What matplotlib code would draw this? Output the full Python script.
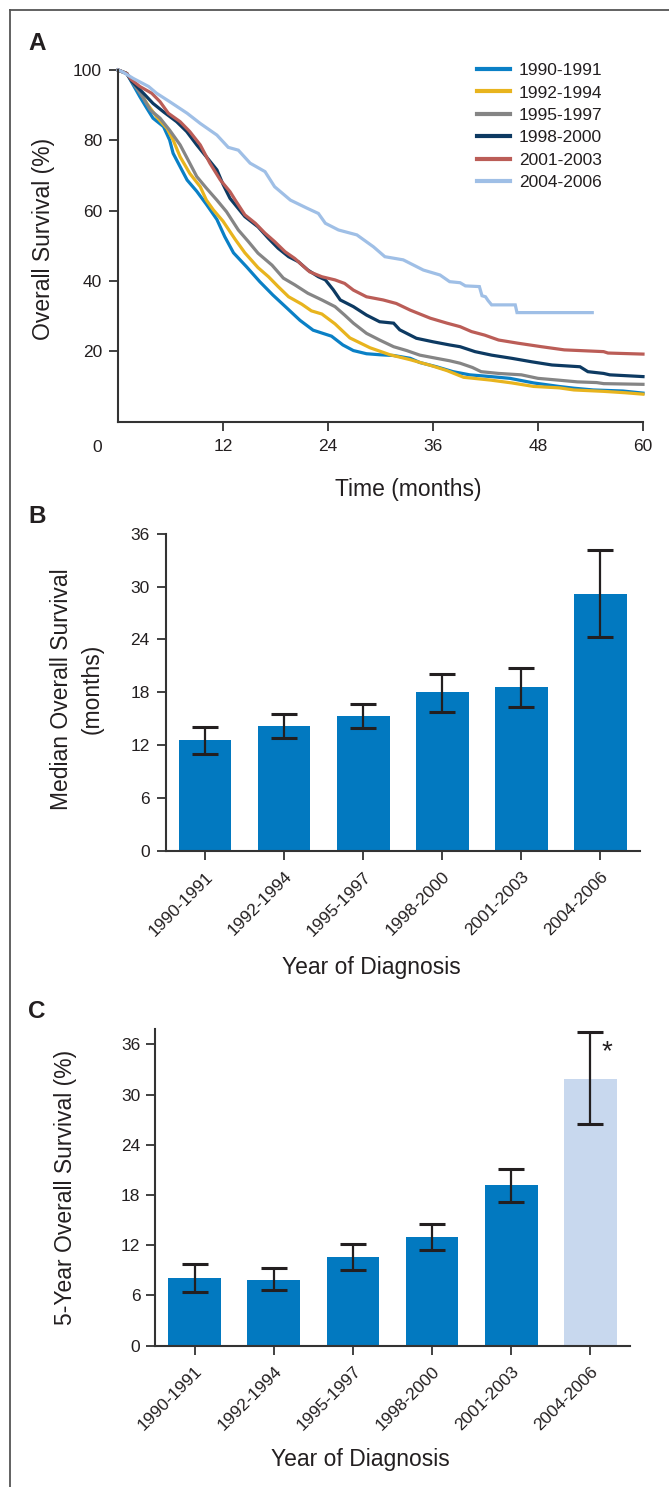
import matplotlib
matplotlib.use('Agg')
import matplotlib.pyplot as plt
from matplotlib.lines import Line2D
import numpy as np

plt.rcParams['font.family'] = ['Liberation Sans', 'DejaVu Sans']

# ---------------- data ----------------
groups = ['1990-1991', '1992-1994', '1995-1997', '1998-2000', '2001-2003', '2004-2006']
curve_colors = ['#0a80c6', '#e8b41e', '#858585', '#0d3a62', '#bb5d57', '#9fbfe6']

t_9091 = [0, 1.0, 2.5, 3.3, 4.0, 5.2, 5.9, 6.3, 7.1, 7.9, 9.0, 10.1, 11.3, 12.2, 13.2, 14.7, 16.2, 17.7,
          19.3, 20.8, 22.3, 24.4, 25.7, 26.9, 28.4, 30.0, 31.5, 33.4, 34.5, 36.4, 38.3, 40.2, 42.6, 44.8,
          47.5, 50.4, 52.1, 54.3, 57.7, 60]
s_9091 = [100, 99, 92.4, 89.1, 86.3, 83.9, 80.1, 76.3, 72.5, 68.7, 65.5, 61.8, 57.5, 52.6, 48.0, 44.0, 39.8,
          36.0, 32.3, 28.8, 26.0, 24.3, 21.8, 20.2, 19.3, 19.0, 18.8, 18.0, 16.8, 15.6, 14.2, 13.3, 12.8,
          12.3, 11.0, 10.0, 9.5, 9.0, 8.7, 8.1]

t_9294 = [0, 1.0, 2.5, 3.3, 4.4, 5.6, 6.3, 7.1, 8.2, 9.4, 10.1, 10.9, 12.0, 13.4, 14.5, 16.0, 17.2, 18.3,
          19.5, 21.0, 22.1, 23.3, 24.8, 26.5, 28.8, 31.1, 33.4, 35.7, 37.6, 39.5, 42.6, 45.0, 47.5, 50.4,
          52.1, 55.5, 58.0, 60]
s_9294 = [100, 99, 93.8, 90.5, 86.7, 83.4, 80.1, 75.3, 70.6, 66.8, 63.0, 60.2, 57.0, 51.8, 48.0, 43.8, 41.2,
          38.4, 35.5, 33.4, 31.5, 30.6, 27.8, 23.8, 21.0, 19.0, 17.6, 16.0, 14.5, 12.6, 11.8, 11.0, 10.0,
          9.6, 9.0, 8.6, 8.2, 7.8]

t_9597 = [0, 1.0, 1.75, 2.9, 3.7, 4.8, 5.9, 7.1, 8.2, 9.0, 10.1, 11.3, 12.4, 13.75, 14.9, 16.0, 17.6, 18.9,
          20.2, 21.7, 23.3, 24.8, 25.9, 26.9, 28.4, 29.9, 31.5, 33.0, 34.5, 36.4, 37.9, 39.1, 40.5, 41.5,
          43.5, 46.1, 48.0, 50.3, 52.5, 54.7, 55.5, 60]
s_9597 = [100, 99, 96.2, 92.0, 88.6, 86.3, 82.9, 78.7, 73.5, 69.7, 66.4, 63.0, 59.7, 54.5, 51.2, 47.9, 44.5,
          40.8, 38.9, 36.5, 34.6, 32.7, 30.3, 28.0, 25.1, 23.2, 21.3, 20.2, 18.9, 18.0, 17.3, 16.6, 15.4,
          14.2, 13.7, 13.3, 12.3, 11.8, 11.3, 11.1, 10.8, 10.6]

t_9800 = [0, 1.0, 1.6, 2.9, 4.0, 5.2, 6.7, 7.85, 9.0, 10.1, 11.3, 12.0, 12.8, 14.5, 16.0, 17.2, 18.3, 19.5,
          20.6, 21.7, 22.9, 23.7, 24.6, 25.4, 26.9, 28.4, 29.9, 31.5, 32.2, 34.1, 36.0, 37.9, 39.1, 40.8,
          42.7, 45.0, 47.3, 49.6, 52.8, 53.7, 55.5, 56.2, 58.5, 60]
s_9800 = [100, 99, 96.7, 93.4, 90.5, 88.1, 85.3, 82.5, 78.7, 75.3, 71.6, 67.5, 63.5, 58.3, 55.4, 52.1, 49.3,
          46.9, 45.5, 43.1, 41.2, 40.3, 37.5, 34.6, 32.7, 30.3, 28.4, 28.0, 26.1, 23.7, 22.7, 21.8, 21.3,
          19.9, 18.9, 18.0, 17.0, 16.1, 15.6, 14.2, 13.7, 13.3, 13.0, 12.8]

t_0103 = [0, 1.0, 1.56, 2.5, 3.85, 4.8, 5.75, 7.1, 8.2, 9.4, 10.5, 11.7, 12.8, 13.4, 14.5, 15.7, 16.8, 17.9,
          19.1, 20.2, 21.9, 23.3, 24.8, 25.9, 26.9, 28.4, 30.3, 31.8, 33.4, 35.7, 37.6, 39.1, 40.4, 41.9,
          43.5, 45.7, 48.4, 51.0, 55.5, 56.0, 60]
s_0103 = [100, 99, 97.2, 95.3, 93.4, 91.0, 87.7, 85.3, 82.5, 78.7, 73.5, 68.7, 65.4, 63.0, 58.8, 56.4, 53.6,
          51.2, 48.3, 46.4, 42.6, 41.2, 40.3, 39.3, 37.4, 35.5, 34.6, 33.6, 31.7, 29.4, 28.0, 27.0, 25.6,
          24.6, 23.2, 22.3, 21.3, 20.4, 19.9, 19.5, 19.2]

t_0406 = [0, 0.5, 1.75, 3.5, 4.4, 5.9, 7.9, 9.4, 11.3, 12.6, 13.75, 15.1, 16.8, 17.9, 19.7, 21.6, 22.9, 23.7,
          25.2, 27.3, 29.2, 30.5, 32.6, 34.9, 36.8, 37.9, 39.1, 39.7, 41.3, 41.6, 42.0, 42.3, 42.7, 45.4,
          45.6, 54.2]
s_0406 = [100, 99.5, 97.6, 95.3, 93.4, 91.0, 87.7, 84.8, 81.5, 78.0, 77.2, 73.5, 71.1, 66.8, 63.0, 60.7,
          59.2, 56.4, 54.5, 53.1, 49.7, 46.9, 46.0, 43.1, 41.7, 39.8, 39.5, 38.6, 38.4, 35.8, 35.5, 34.4,
          33.2, 33.2, 31.0, 31.0]

curve_t = [t_9091, t_9294, t_9597, t_9800, t_0103, t_0406]
curve_s = [s_9091, s_9294, s_9597, s_9800, s_0103, s_0406]

median_os = [12.6, 14.2, 15.3, 18.0, 18.6, 29.2]
median_lo = [11.0, 12.8, 14.0, 15.8, 16.3, 24.3]
median_hi = [14.1, 15.6, 16.7, 20.1, 20.8, 34.1]

five_yr = [8.1, 7.9, 10.6, 13.0, 19.2, 31.8]
five_lo = [6.4, 6.6, 9.1, 11.4, 17.2, 26.5]
five_hi = [9.8, 9.3, 12.2, 14.5, 21.1, 37.5]

xticks_a = [12, 24, 36, 48, 60]
yticks_a = [20, 40, 60, 80, 100]
yticks_bc = [0, 6, 12, 18, 24, 30, 36]

# ---------------- style ----------------
W, H = 669, 1487
TXT = '#231f20'
SP = '#333333'
BAR = '#0279c0'
BAR_LIGHT = '#c8d8ee'
TICK_FS = 12.5
LAB_FS = 16.5

fig = plt.figure(figsize=(W / 100, H / 100), dpi=100)


def rect(l, r, t, b):
    return [l / W, 1 - b / H, (r - l) / W, (b - t) / H]


def style(ax):
    for s in ['top', 'right']:
        ax.spines[s].set_visible(False)
    for s in ['left', 'bottom']:
        ax.spines[s].set_color(SP)
        ax.spines[s].set_linewidth(1.5)
    ax.tick_params(direction='out', length=6.5, width=1.3, color=SP,
                   labelsize=TICK_FS, labelcolor=TXT)


# frame lines
fig.add_artist(Line2D([10 / W, 1], [1 - 10 / H, 1 - 10 / H], transform=fig.transFigure,
                      color='#555555', lw=1.3))
fig.add_artist(Line2D([10 / W, 10 / W], [0, 1 - 10 / H], transform=fig.transFigure,
                      color='#555555', lw=1.3))

# panel letters
for letter, ybase in [('A', 50), ('B', 523), ('C', 1018)]:
    fig.text(28 / W, 1 - ybase / H, letter, fontsize=17.5, fontweight='bold',
             color=TXT, ha='left', va='baseline')

# ---------------- Panel A ----------------
axA = fig.add_axes(rect(118, 643, 70, 421.6))
style(axA)
for t, s, c, g in zip(curve_t, curve_s, curve_colors, groups):
    axA.plot(t, s, color=c, lw=2.3, label=g, clip_on=False, solid_joinstyle='miter')
axA.set_xlim(0, 60)
axA.set_ylim(0, 100)
axA.set_xticks(xticks_a)
axA.set_yticks(yticks_a)
axA.tick_params(axis='x', pad=6)
axA.tick_params(axis='y', pad=5)
axA.text(-0.04, -0.075, '0', transform=axA.transAxes, ha='center', va='center',
         fontsize=TICK_FS, color=TXT)
axA.set_xlabel('Time (months)', fontsize=LAB_FS, color=TXT, va='center')
axA.xaxis.set_label_coords(0.5535, -0.192)
axA.set_ylabel('Overall Survival (%)', fontsize=LAB_FS, color=TXT, va='center')
axA.yaxis.set_label_coords(-0.141, 0.519)
leg = axA.legend(loc='upper left', bbox_to_anchor=(0.684, 1.020), frameon=False,
                 fontsize=TICK_FS, handlelength=1.9, handletextpad=0.5, labelspacing=0.42,
                 borderpad=0, borderaxespad=0)
for txt in leg.get_texts():
    txt.set_color(TXT)
for ln in leg.get_lines():
    ln.set_linewidth(3)

# ---------------- Panel B ----------------
x = np.arange(len(groups))
axB = fig.add_axes(rect(165.5, 640, 533.7, 851))
style(axB)
axB.bar(x, median_os, width=0.665, color=BAR, zorder=2)
axB.errorbar(x, median_os,
             yerr=[np.array(median_os) - np.array(median_lo), np.array(median_hi) - np.array(median_os)],
             fmt='none', ecolor=TXT, elinewidth=1.6, capsize=9.7, capthick=2.2, zorder=3)
axB.set_xlim(-0.5, 5.5)
axB.set_ylim(0, 36)
axB.set_yticks(yticks_bc)
axB.set_xticks(x)
axB.set_xticklabels(groups, rotation=45, ha='right', va='top', rotation_mode='anchor')
axB.tick_params(axis='x', pad=6.4)
axB.tick_params(axis='y', pad=5)
axB.set_ylabel('Median Overall Survival\n(months)', fontsize=LAB_FS, color=TXT,
               va='center', linespacing=1.4)
axB.yaxis.set_label_coords(-0.1865, 0.5106)
axB.set_xlabel('Year of Diagnosis', fontsize=LAB_FS, color=TXT, va='center')
axB.xaxis.set_label_coords(0.4331, -0.3687)

# ---------------- Panel C ----------------
axC = fig.add_axes(rect(155, 630, 1029, 1345.7))
style(axC)
axC.bar(x, five_yr, width=0.665, color=[BAR] * 5 + [BAR_LIGHT], zorder=2)
axC.errorbar(x, five_yr,
             yerr=[np.array(five_yr) - np.array(five_lo), np.array(five_hi) - np.array(five_yr)],
             fmt='none', ecolor=TXT, elinewidth=1.6, capsize=9.7, capthick=2.2, zorder=3)
axC.set_xlim(-0.5, 5.5)
axC.set_ylim(0, 37.83)
axC.set_yticks(yticks_bc)
axC.set_xticks(x)
axC.set_xticklabels(groups, rotation=45, ha='right', va='top', rotation_mode='anchor')
axC.tick_params(axis='x', pad=6.4)
axC.tick_params(axis='y', pad=4)
axC.text(5.21, 35.0, '*', ha='center', va='center', fontsize=20, color=TXT)
axC.set_ylabel('5-Year Overall Survival (%)', fontsize=LAB_FS, color=TXT, va='center')
axC.yaxis.set_label_coords(-0.1874, 0.5011)
axC.set_xlabel('Year of Diagnosis', fontsize=LAB_FS, color=TXT, va='center')
axC.xaxis.set_label_coords(0.4316, -0.3609)

fig.savefig('out.png', dpi=100)
